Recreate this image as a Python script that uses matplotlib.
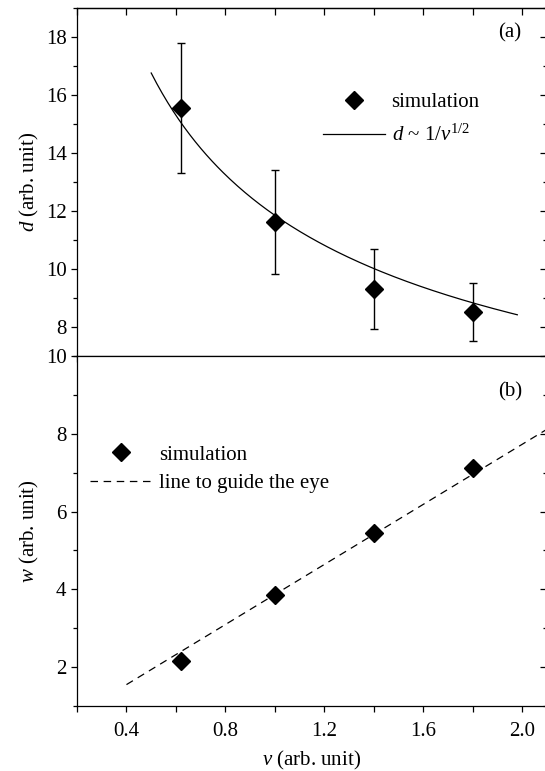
import numpy as np
import matplotlib
matplotlib.use("Agg")
import matplotlib.pyplot as plt
from matplotlib.lines import Line2D
from matplotlib.ticker import MultipleLocator

plt.rcParams["font.family"] = ["Liberation Serif", "DejaVu Serif"]
plt.rcParams["mathtext.fontset"] = "custom"
plt.rcParams["mathtext.rm"] = "Liberation Serif"
plt.rcParams["mathtext.it"] = "Liberation Serif:italic"

# simulation data
nu = [0.62, 1.0, 1.4, 1.8]
d_sim = [15.55, 11.63, 9.31, 8.51]
d_err = [2.23, 1.80, 1.37, 1.00]
w_sim = [2.15, 3.85, 5.45, 7.12]

# fit d ~ A / nu^(1/2)
fit_A = 11.85
fit_nu_range = (0.5, 1.98)

# guide line for w
guide_nu = [0.4, 2.15]
guide_w = [1.55, 8.31]

fig = plt.figure(figsize=(5.45, 7.71), dpi=100)
left, width = 77 / 545, 470 / 545
ax1 = fig.add_axes([left, (771 - 356) / 771, width, 348 / 771])
ax2 = fig.add_axes([left, (771 - 706) / 771, width, 350 / 771])

fs = 15
lab_fs = 15

# (a) spacing d
nu_fit = np.linspace(fit_nu_range[0], fit_nu_range[1], 200)
ax1.plot(nu_fit, fit_A / np.sqrt(nu_fit), color="black", lw=0.9)
ax1.errorbar(nu, d_sim, yerr=d_err, fmt="D", color="black", ms=9,
             ecolor="black", elinewidth=1.0, capsize=3, capthick=1.0)
ax1.set_xlim(0.2, 2.1)
ax1.set_ylim(7, 19)
ax1.yaxis.set_major_locator(MultipleLocator(2))
ax1.yaxis.set_minor_locator(MultipleLocator(1))
ax1.xaxis.set_major_locator(MultipleLocator(0.4))
ax1.xaxis.set_minor_locator(MultipleLocator(0.2))
ax1.set_yticks([8, 10, 12, 14, 16, 18])
ax1.tick_params(labelbottom=False)
ax1.set_ylabel("$d$ (arb. unit)", fontsize=lab_fs)
ax1.yaxis.set_label_coords(-0.077, 0.5)
ax1.text(0.921, 0.928, "(a)", transform=ax1.transAxes, fontsize=fs,
         ha="center", va="center")
h1 = [Line2D([], [], marker="D", ls="none", color="black", ms=9),
      Line2D([], [], color="black", lw=0.9)]
ax1.legend(h1, ["simulation", r"$d$ ~ 1/$\nu^{\mathrm{1/2}}$"],
           loc="center left", bbox_to_anchor=(0.523, 0.680),
           frameon=False, fontsize=fs, handlelength=3.0,
           handletextpad=0.3, labelspacing=0.62, borderpad=0,
           borderaxespad=0)

# (b) width w
ax2.plot(guide_nu, guide_w, color="black", lw=0.9, ls=(0, (6, 4.5)))
ax2.plot(nu, w_sim, "D", color="black", ms=9)
ax2.set_xlim(0.2, 2.1)
ax2.set_ylim(1, 10)
ax2.yaxis.set_major_locator(MultipleLocator(2))
ax2.yaxis.set_minor_locator(MultipleLocator(1))
ax2.set_yticks([2, 4, 6, 8, 10])
ax2.xaxis.set_major_locator(MultipleLocator(0.4))
ax2.xaxis.set_minor_locator(MultipleLocator(0.2))
ax2.set_xticks([0.4, 0.8, 1.2, 1.6, 2.0])
ax2.set_xticklabels(["0.4", "0.8", "1.2", "1.6", "2.0"])
ax2.set_xlabel(r"$\nu$ (arb. unit)", fontsize=lab_fs)
ax2.xaxis.set_label_coords(0.5, -0.122)
ax2.set_ylabel("$w$ (arb. unit)", fontsize=lab_fs)
ax2.yaxis.set_label_coords(-0.077, 0.5)
ax2.text(0.921, 0.897, "(b)", transform=ax2.transAxes, fontsize=fs,
         ha="center", va="center")
h2 = [Line2D([], [], marker="D", ls="none", color="black", ms=9),
      Line2D([], [], color="black", lw=0.9, ls=(0, (6, 4.5)))]
ax2.legend(h2, ["simulation", "line to guide the eye"],
           loc="center left", bbox_to_anchor=(0.028, 0.677),
           frameon=False, fontsize=fs, handlelength=3.0,
           handletextpad=0.3, labelspacing=0.42, borderpad=0,
           borderaxespad=0)

for ax in (ax1, ax2):
    for sp in ax.spines.values():
        sp.set_linewidth(0.9)
    ax.tick_params(axis="both", which="both", labelsize=fs, width=0.9,
                   colors="black")
    ax.tick_params(axis="y", which="major", direction="out", length=4.5,
                   left=True, right=False, pad=3)
    ax.tick_params(axis="y", which="minor", direction="out", length=3,
                   left=True, right=False)
    ax.tick_params(axis="x", which="both", direction="out", length=4.5,
                   bottom=True, top=False, pad=7)
    # inward ticks on the top and right, Origin style
    sec_y = ax.secondary_yaxis("right")
    sec_y.yaxis.set_major_locator(MultipleLocator(2))
    sec_y.tick_params(direction="in", length=5, width=0.9, labelright=False)
    sec_y.yaxis.set_minor_locator(MultipleLocator(1))
    sec_y.tick_params(which="minor", direction="in", length=3, width=0.9)
    sec_y.spines["right"].set_linewidth(0.9)

sec_x = ax1.secondary_xaxis("top")
sec_x.xaxis.set_major_locator(MultipleLocator(0.2))
sec_x.tick_params(direction="in", length=5, width=0.9, labeltop=False)
sec_x.spines["top"].set_linewidth(0.9)

fig.savefig("out.png", dpi=100)
